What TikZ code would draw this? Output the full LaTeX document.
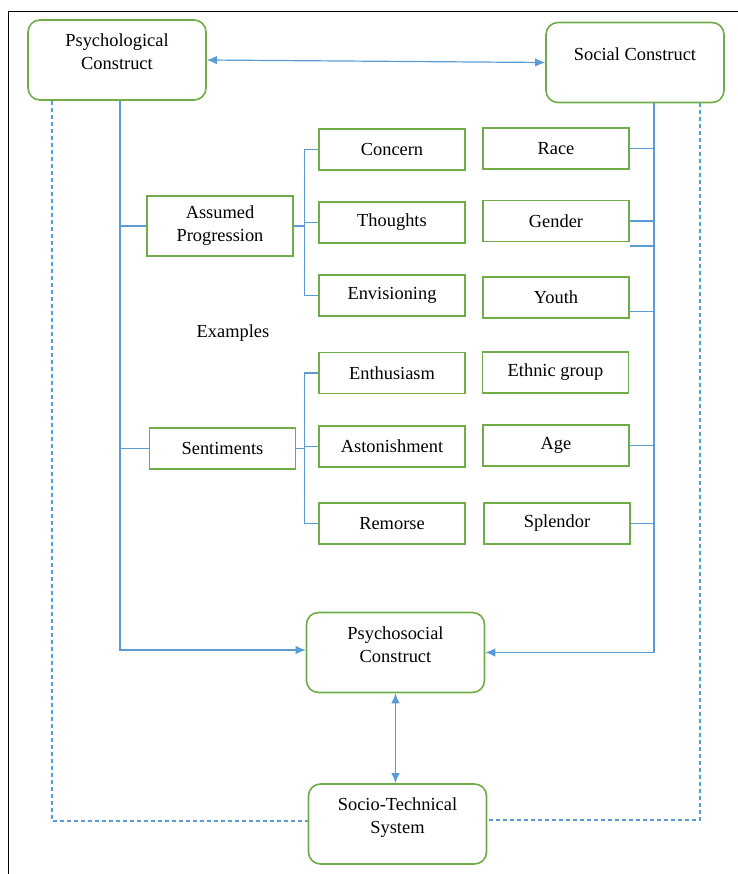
\documentclass[tikz,border=0pt]{standalone}
\usepackage{fontspec}
\setmainfont{Liberation Serif}
\usepackage{tikz}
\usetikzlibrary{arrows.meta}

\definecolor{boxgreen}{RGB}{112,173,71}
\definecolor{linkblue}{RGB}{91,155,213}

\begin{document}
\begin{tikzpicture}[x=0.5pt,y=-0.5pt,
    font=\fontsize{9.2}{11.5}\selectfont,
    >={Latex[length=5pt,width=4.2pt]},
    bigbox/.style={draw=boxgreen, line width=0.8pt, rounded corners=6pt,
      minimum width=89pt, minimum height=40pt, align=center, text depth=8pt},
    smallbox/.style={draw=boxgreen, line width=0.8pt,
      minimum width=73pt, minimum height=20.5pt, align=center},
    link/.style={linkblue, line width=0.6pt},
    dashlink/.style={linkblue, line width=0.6pt, dash pattern=on 2pt off 1.5pt}]
\useasboundingbox (0,0) rectangle (738,874);
% page frame
    \draw[black, line width=0.5pt] (8,874) -- (8,11) -- (738,11);
% main constructs
    \node[bigbox] (psych) at (117,60) {Psychological\\Construct};
    \node[bigbox] (social) at (635,62.5) {Social Construct};
    \node[bigbox] (psysoc) at (395.5,652.5) {Psychosocial\\Construct};
    \node[bigbox] (sociotech) at (397.5,824) {Socio-Technical\\System};
% left side groups
    \node[smallbox, minimum height=30pt] (assumed) at (220,226) {Assumed\\Progression};
    \node[smallbox] (sentiments) at (222.5,448.5) {Sentiments};
    \node (examples) at (233,333) {Examples};
% middle column
    \node[smallbox] (concern) at (392,149.5) {Concern};
    \node[smallbox] (thoughts) at (392,222.5) {Thoughts};
    \node[smallbox] (envision) at (392,295.5) {Envisioning};
    \node[smallbox] (enthus) at (392,373) {Enthusiasm};
    \node[smallbox] (astonish) at (392,446.5) {Astonishment};
    \node[smallbox] (remorse) at (392,523.5) {Remorse};
% right column
    \node[smallbox] (race) at (556,148.5) {Race};
    \node[smallbox] (gender) at (556,221) {Gender};
    \node[smallbox] (youth) at (556,297.5) {Youth};
    \node[smallbox] (ethnic) at (555.5,372.5) {Ethnic group};
    \node[smallbox] (age) at (556,445.5) {Age};
    \node[smallbox] (splendor) at (557,523.5) {Splendor};
% trunk points
    \coordinate (ltrunk) at ([xshift=1.5pt]psych.south);
    \coordinate (rtrunk) at ([xshift=9.5pt]social.south);
    \coordinate (atrunk) at ([xshift=-7pt]concern.west);
    \coordinate (strunk) at ([xshift=-7pt]enthus.west);
    \coordinate (gstub) at ([yshift=-12.5pt]gender.east);
% top link
    \draw[link, <->] (psych.east) -- (social.west);
% left trunk and branches
    \draw[link, ->] (ltrunk) |- ([yshift=1.25pt]psysoc.west);
    \draw[link] (assumed.west) -- (assumed.west -| ltrunk);
    \draw[link] (sentiments.west) -- (sentiments.west -| ltrunk);
% middle branches
    \draw[link] (assumed.east) -- (assumed.east -| atrunk);
    \draw[link] (concern.west) -- (concern.west -| atrunk) |- (envision.west);
    \draw[link] (thoughts.west) -- (thoughts.west -| atrunk);
    \draw[link] (sentiments.east) -- (sentiments.east -| strunk);
    \draw[link] (enthus.west) -- (enthus.west -| strunk) |- (remorse.west);
    \draw[link] (astonish.west) -- (astonish.west -| strunk);
% right trunk and branches
    \draw[link, ->] (rtrunk) |- (psysoc.east);
    \draw[link] (race.east) -- (race.east -| rtrunk);
    \draw[link] (gender.east) -- (gender.east -| rtrunk);
    \draw[link] (gstub) -- (gstub -| rtrunk);
    \draw[link] ([yshift=-7pt]youth.east) -- ([yshift=-7pt]youth.east -| rtrunk);
    \draw[link] (age.east) -- (age.east -| rtrunk);
    \draw[link] (splendor.east) -- (splendor.east -| rtrunk);
% bottom links
    \draw[link, <->] (psysoc.south) -- (psysoc.south |- sociotech.north);
    \draw[dashlink] ([xshift=-32.5pt]psych.south) |- ([yshift=1.5pt]sociotech.west);
    \draw[dashlink] ([xshift=32.5pt]social.south) |- ([yshift=2pt]sociotech.east);
\end{tikzpicture}
\end{document}
